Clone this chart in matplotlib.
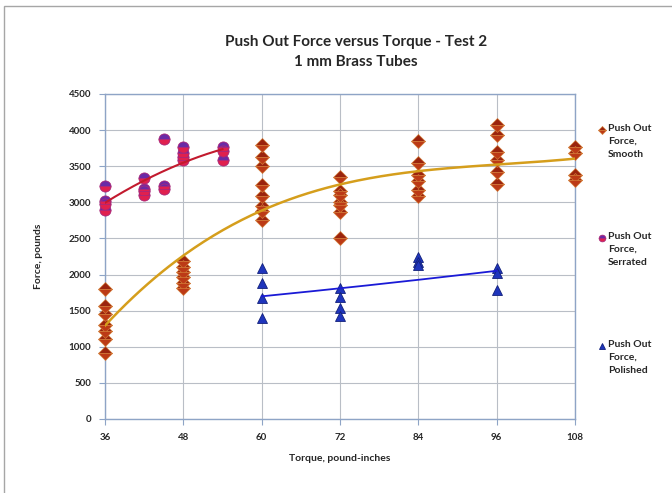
import matplotlib
import matplotlib.pyplot as plt
import numpy as np
from matplotlib.lines import Line2D
from matplotlib.patches import Rectangle

matplotlib.use("agg")

# torque settings (pound-inches) and measured push out force (pounds)
smooth_torque = [36, 36, 36, 36, 36, 36, 36,
                 48, 48, 48, 48, 48, 48,
                 60, 60, 60, 60, 60, 60, 60, 60,
                 72, 72, 72, 72, 72, 72, 72,
                 84, 84, 84, 84, 84, 84,
                 96, 96, 96, 96, 96, 96,
                 108, 108, 108, 108]
smooth_force = [1800, 1570, 1460, 1300, 1220, 1110, 920,
                2190, 2110, 2040, 1960, 1880, 1810,
                3790, 3630, 3500, 3240, 3090, 2950, 2880, 2760,
                3350, 3160, 3100, 3010, 2960, 2860, 2500,
                3850, 3550, 3380, 3290, 3170, 3090,
                4070, 3930, 3700, 3590, 3420, 3250,
                3770, 3690, 3380, 3310]

serrated_torque = [36, 36, 36, 36,
                   42, 42, 42, 42,
                   45, 45, 45,
                   48, 48, 48, 48,
                   54, 54, 54]
serrated_force = [3220, 3020, 2980, 2900,
                  3340, 3190, 3150, 3100,
                  3880, 3220, 3180,
                  3760, 3680, 3630, 3580,
                  3770, 3710, 3580]

polished_torque = [60, 60, 60, 60,
                   72, 72, 72, 72,
                   84, 84, 84,
                   96, 96, 96]
polished_force = [2090, 1890, 1670, 1400,
                  1820, 1690, 1540, 1420,
                  2240, 2180, 2130,
                  2090, 2020, 1790]

x_ticks = [36, 48, 60, 72, 84, 96, 108]
y_ticks = list(range(0, 4501, 500))

FONT = "Lato"
GRID = "#B9BEC6"
SPINE = "#8EA4C6"
TEXT = "#262626"

smooth_style = dict(marker="D", markersize=7, fillstyle="top",
                    markerfacecolor="#9A240E", markerfacecoloralt="#BC3A16",
                    markeredgecolor="#D27A36", markeredgewidth=0.5, linestyle="none")
serrated_style = dict(marker="o", markersize=8, fillstyle="top",
                      markerfacecolor="#6A2AA6", markerfacecoloralt="#E0204E",
                      markeredgecolor="#A8287A", markeredgewidth=0.6, linestyle="none")
polished_style = dict(marker="^", markersize=7.5, markerfacecolor="#1F35BC",
                      markeredgecolor="#12207A", markeredgewidth=0.6, linestyle="none")


def trend(x, y, degree):
    coeffs = np.polyfit(x, y, degree)
    xs = np.linspace(min(x), max(x), 200)
    return xs, np.polyval(coeffs, xs)


fig = plt.figure(figsize=(6.72, 4.93), dpi=100)
fig.patch.set_facecolor("white")

# chart area frame
fig.add_artist(Rectangle((4 / 672, -0.02), 1.0, 1 - 6 / 493 + 0.02,
                         transform=fig.transFigure, fill=False,
                         edgecolor="#A6A6A6", linewidth=1.0))

ax = fig.add_axes([105 / 672, 1 - 419 / 493, 470 / 672, 325 / 493])

ax.plot(smooth_torque, smooth_force, zorder=3, clip_on=False, **smooth_style)
ax.plot(serrated_torque, serrated_force, zorder=3, clip_on=False, **serrated_style)
ax.plot(polished_torque, polished_force, zorder=3, clip_on=False, **polished_style)

xs, ys = trend(smooth_torque, smooth_force, 3)
ax.plot(xs, ys, color="#D59E1C", linewidth=1.8, zorder=4)
xs, ys = trend(serrated_torque, serrated_force, 2)
ax.plot(xs, ys, color="#C21A2E", linewidth=1.5, zorder=4)
xs, ys = trend(polished_torque, polished_force, 2)
ax.plot(xs, ys, color="#1A1AD6", linewidth=1.3, zorder=4)

ax.set_xlim(36, 108)
ax.set_ylim(0, 4500)
ax.set_xticks(x_ticks)
ax.set_yticks(y_ticks)
ax.grid(True, color=GRID, linewidth=0.8)
ax.set_axisbelow(True)
for spine in ax.spines.values():
    spine.set_color(SPINE)
    spine.set_linewidth(1.0)
ax.tick_params(length=4, width=0.8, color=SPINE, labelsize=7, labelcolor=TEXT, pad=6)
for label in ax.get_xticklabels() + ax.get_yticklabels():
    label.set_fontfamily(FONT)
    label.set_fontweight("bold")

ax.set_xlabel("Torque, pound-inches", fontsize=7.5, fontweight="bold",
              family=FONT, color=TEXT, labelpad=9)
ax.set_ylabel("Force, pounds", fontsize=7.5, fontweight="bold",
              family=FONT, color=TEXT, labelpad=18)

fig.text(356 / 672, 1 - 42 / 493, "Push Out Force versus Torque - Test 2",
         ha="center", va="center", fontsize=11, fontweight="bold",
         family=FONT, color=TEXT)
fig.text(356 / 672, 1 - 62 / 493, "1 mm Brass Tubes",
         ha="center", va="center", fontsize=11, fontweight="bold",
         family=FONT, color=TEXT)

# legend entries at the right of the plot
legend_items = [
    ("Push Out\nForce,\nSmooth", 130, smooth_style),
    ("Push Out\nForce,\nSerrated", 238, serrated_style),
    ("Push Out\nForce,\nPolished", 346, polished_style),
]
for text, top, style in legend_items:
    key = dict(style)
    key["markersize"] = style["markersize"] * 0.6
    fig.add_artist(Line2D([602 / 672], [1 - top / 493],
                          transform=fig.transFigure, **key))
    fig.text(608 / 672, 1 - (top - 6) / 493, text, ha="left", va="top",
             fontsize=7.5, fontweight="bold", family=FONT, color=TEXT,
             linespacing=1.55)

fig.savefig("out.png", dpi=100)
plt.close(fig)
